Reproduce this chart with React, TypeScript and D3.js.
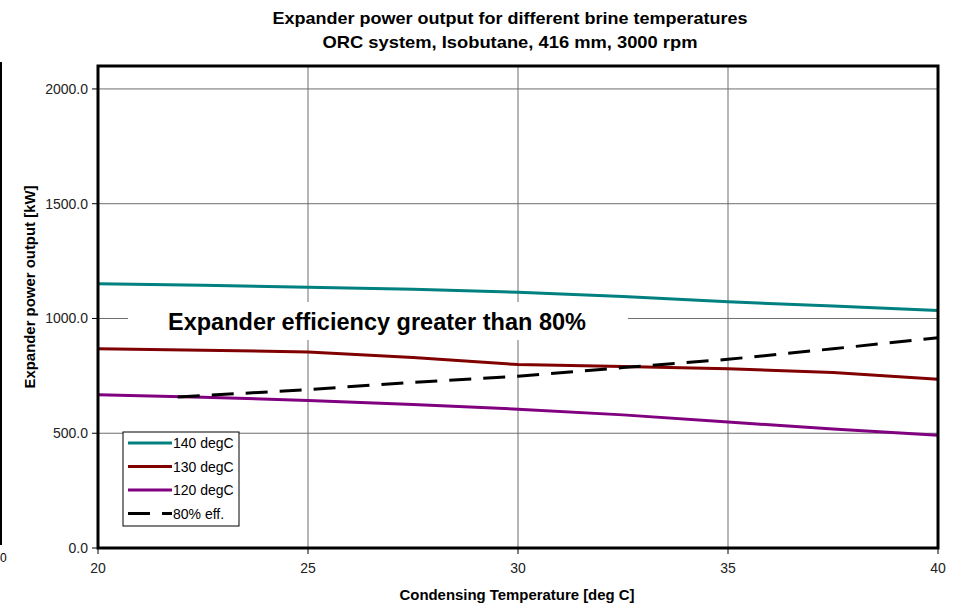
import React from "react";
import * as d3 from "d3";

// Condensing temperature [deg C] and expander power output [kW]
const temps = [20, 22.5, 25, 27.5, 30, 32.5, 35, 37.5, 40];
const power140 = [1151, 1145, 1136, 1127, 1114, 1096, 1073, 1054, 1035];
const power130 = [868, 862, 854, 830, 799, 791, 781, 765, 735];
const power120 = [668, 657, 643, 625, 605, 580, 549, 518, 491];
const effTemps = [21.9, 25, 27.5, 30, 32.5, 35, 37.5, 40];
const eff80 = [658, 690, 722, 748, 786, 822, 868, 916];

const xTicks = [20, 25, 30, 35, 40];
const yTicks = [0, 500, 1000, 1500, 2000];

const seriesNames = ["140 degC", "130 degC", "120 degC", "80% eff."];
const seriesColors = ["#008080", "#800000", "#800080", "#000000"];

const titleLines = [
  "Expander power output for different brine temperatures",
  "ORC system, Isobutane, 416 mm, 3000 rpm",
];
const titleWidths = [475, 375];
const note = "Expander efficiency greater than 80%";

const W = 963;
const H = 605;
const plot = { left: 98, right: 938, top: 66, bottom: 548 };
const font = "'Liberation Sans', Arial, sans-serif";
const dash = "22,12";

export default function App() {
  const x = d3.scaleLinear().domain([20, 40]).range([plot.left, plot.right]);
  const y = d3.scaleLinear().domain([0, 2100]).range([plot.bottom, plot.top]);

  const line = d3
    .line<[number, number]>()
    .x((d) => x(d[0]))
    .y((d) => y(d[1]));

  const solid = [power140, power130, power120].map((vals) =>
    line(temps.map((t, i) => [t, vals[i]] as [number, number]))
  );
  const effPath = line(effTemps.map((t, i) => [t, eff80[i]] as [number, number]));

  const legend = { x: 123, y: 432, w: 116, h: 94 };

  return (
    <svg
      width={W}
      height={H}
      style={{ position: "absolute", left: 0, top: 0, background: "#fff" }}
      fontFamily={font}
    >
      <rect x={0} y={0} width={W} height={H} fill="#fff" />

      {/* edge of neighbouring frame */}
      <line x1={1} x2={1} y1={62} y2={545} stroke="#000" strokeWidth={2} />
      <text x={0} y={562} fontSize={12} fill="#000">0</text>

      {/* titles */}
      {titleLines.map((t, i) => (
        <text
          key={t}
          x={510}
          y={24 + i * 24}
          textAnchor="middle"
          fontSize={17}
          fontWeight="bold"
          fill="#000"
          textLength={titleWidths[i]}
          lengthAdjust="spacingAndGlyphs"
        >
          {t}
        </text>
      ))}

      {/* gridlines */}
      {yTicks.map((v) => (
        <line key={"gy" + v} x1={plot.left} x2={plot.right} y1={y(v)} y2={y(v)} stroke="#6e6e6e" strokeWidth={1} />
      ))}
      {xTicks.map((v) => (
        <line key={"gx" + v} x1={x(v)} x2={x(v)} y1={plot.top} y2={plot.bottom} stroke="#6e6e6e" strokeWidth={1} />
      ))}

      {/* annotation */}
      <rect x={128} y={302} width={500} height={38} fill="#fff" />
      <text x={168} y={330} fontSize={23.5} fontWeight="bold" fill="#000">
        {note}
      </text>

      {/* series */}
      {solid.map((d, i) => (
        <path key={i} d={d ?? ""} fill="none" stroke={seriesColors[i]} strokeWidth={3} />
      ))}
      <path d={effPath ?? ""} fill="none" stroke="#000" strokeWidth={3} strokeDasharray={dash} />

      {/* frame */}
      <rect
        x={plot.left}
        y={plot.top}
        width={plot.right - plot.left}
        height={plot.bottom - plot.top}
        fill="none"
        stroke="#000"
        strokeWidth={3}
      />

      {/* y axis */}
      {yTicks.map((v) => (
        <g key={"ty" + v}>
          <line x1={plot.left - 6} x2={plot.left} y1={y(v)} y2={y(v)} stroke="#000" />
          <text x={88} y={y(v) + 5} textAnchor="end" fontSize={14} fill="#222">
            {v.toFixed(1)}
          </text>
        </g>
      ))}
      <text
        transform={`translate(35,${287}) rotate(-90)`}
        textAnchor="middle"
        fontSize={14}
        fontWeight="bold"
        fill="#000"
        textLength={203}
        lengthAdjust="spacingAndGlyphs"
      >
        Expander power output [kW]
      </text>

      {/* x axis */}
      {xTicks.map((v) => (
        <g key={"tx" + v}>
          <line x1={x(v)} x2={x(v)} y1={plot.bottom} y2={plot.bottom + 6} stroke="#000" />
          <text x={x(v)} y={573} textAnchor="middle" fontSize={14} fill="#222">
            {v}
          </text>
        </g>
      ))}
      <text
        x={517}
        y={600}
        textAnchor="middle"
        fontSize={14}
        fontWeight="bold"
        fill="#000"
        textLength={235}
        lengthAdjust="spacingAndGlyphs"
      >
        Condensing Temperature [deg C]
      </text>

      {/* legend */}
      <rect x={legend.x} y={legend.y} width={legend.w} height={legend.h} fill="#fff" stroke="#000" strokeWidth={1} />
      {seriesNames.map((name, i) => {
        const ly = legend.y + 11 + i * 23.5;
        return (
          <g key={name}>
            <line
              x1={128}
              x2={172}
              y1={ly}
              y2={ly}
              stroke={seriesColors[i]}
              strokeWidth={3}
              strokeDasharray={i === 3 ? dash : undefined}
            />
            <text x={173} y={ly + 5} fontSize={14} fill="#000">
              {name}
            </text>
          </g>
        );
      })}
    </svg>
  );
}
